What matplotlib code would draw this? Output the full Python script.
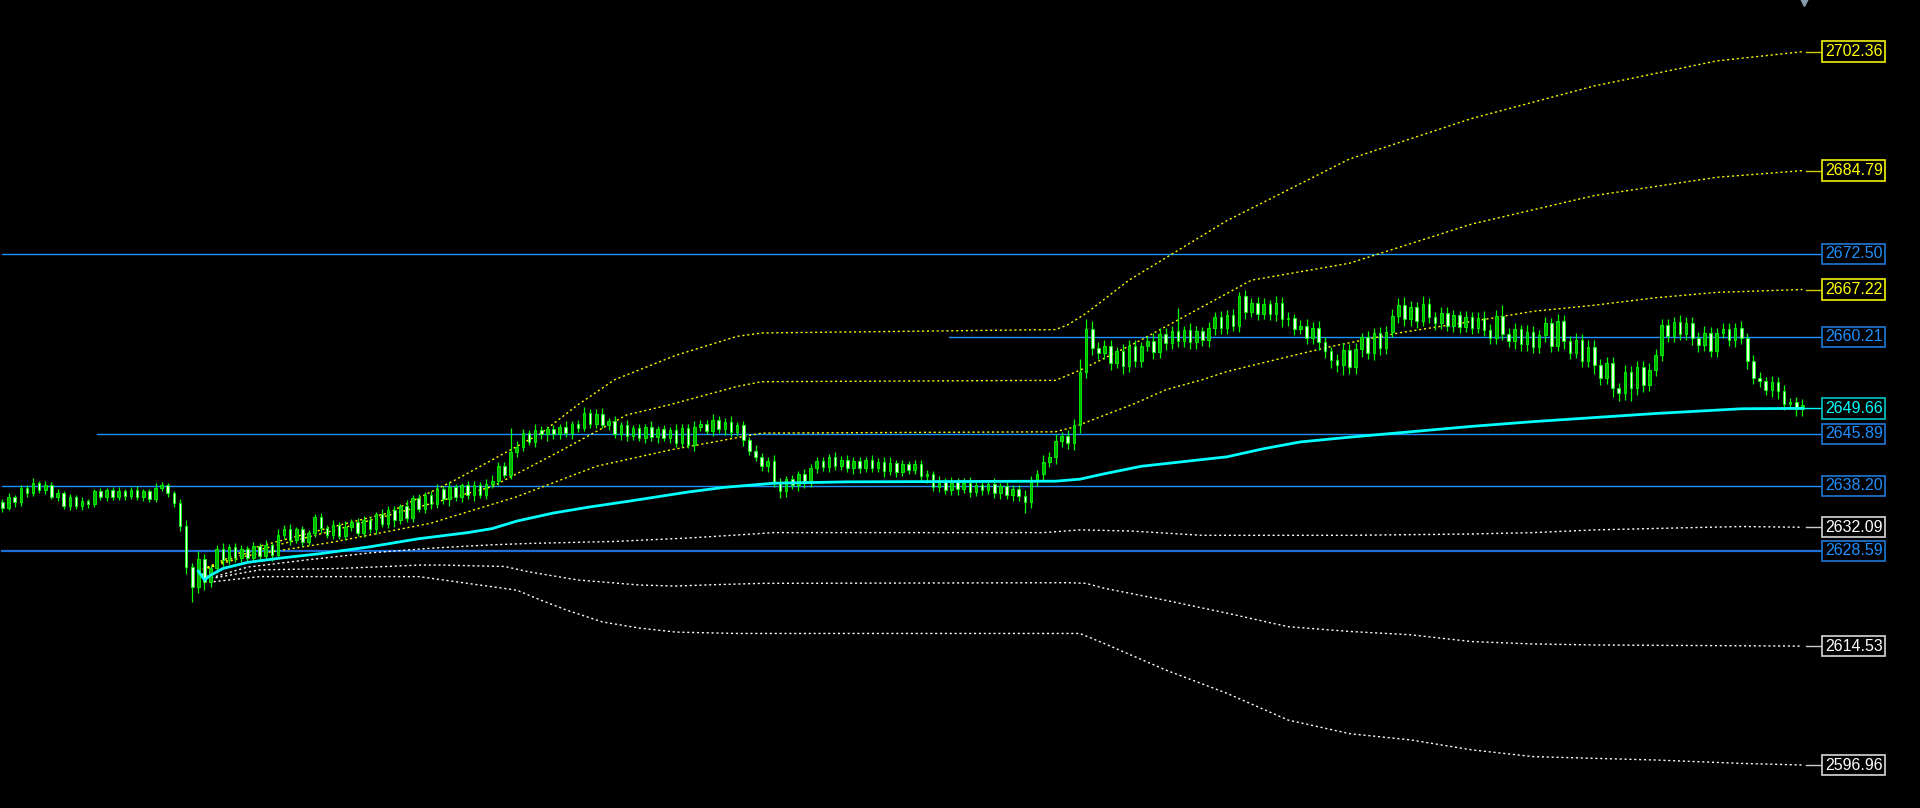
import numpy as np
import matplotlib.pyplot as plt


# CANDLE DATA (one bar every ~6 px)
closes = [
    2635.0, 2636.6, 2635.8, 2637.9, 2637.1, 2638.7, 2637.6, 2638.4, 2636.6, 2637.2,
    2635.3, 2636.5, 2635.2, 2636.0, 2635.6, 2637.4, 2636.5, 2637.6, 2636.6, 2637.5,
    2636.7, 2637.6, 2636.5, 2637.4, 2636.3, 2637.9, 2638.4, 2637.1, 2635.7, 2632.3,
    2626.2, 2623.2, 2627.4, 2624.0, 2626.0, 2628.9, 2627.2, 2629.2, 2627.6, 2628.9,
    2627.6, 2629.3, 2627.9, 2629.4, 2628.0, 2631.0, 2631.9, 2630.2, 2631.8, 2629.9,
    2631.2, 2633.6, 2632.0, 2631.0, 2632.4, 2630.8, 2632.2, 2632.9, 2631.3, 2633.1,
    2631.8, 2634.0, 2632.6, 2634.7, 2633.1, 2635.2, 2633.5, 2636.4, 2634.8, 2636.9,
    2635.5, 2637.8, 2636.2, 2638.0, 2636.5, 2638.3, 2636.8, 2638.4, 2636.9, 2638.5,
    2639.0, 2641.2, 2639.8, 2643.2, 2644.0, 2646.0, 2644.7, 2646.5, 2645.8, 2646.6,
    2645.8, 2646.9, 2646.0, 2647.3, 2646.8, 2649.0, 2647.4, 2648.9, 2647.2, 2647.8,
    2645.9, 2647.2, 2645.6, 2646.8, 2645.3, 2646.9, 2645.4, 2646.6, 2645.3, 2646.5,
    2644.6, 2646.8, 2644.3, 2646.9, 2647.4, 2646.3, 2648.0, 2646.6, 2647.6, 2646.2,
    2647.2, 2645.0, 2643.4, 2642.5, 2641.1, 2641.9, 2638.7, 2637.4, 2639.2, 2638.4,
    2639.9, 2638.6, 2640.8, 2641.9, 2641.0, 2642.4, 2641.2, 2642.1, 2640.9, 2641.9,
    2640.8, 2642.0, 2640.9, 2641.8, 2640.4, 2641.6, 2640.2, 2641.4, 2640.6, 2641.5,
    2639.6, 2639.9, 2638.0, 2638.9, 2637.6, 2638.9, 2637.7, 2638.7, 2637.3, 2638.4,
    2637.6, 2638.5, 2637.1, 2638.2, 2636.9, 2637.8, 2636.7, 2635.8, 2638.9, 2640.0,
    2641.8, 2642.4, 2644.8, 2645.6, 2644.6, 2647.2, 2655.0, 2661.4, 2658.6, 2657.9,
    2658.9, 2656.4, 2658.2, 2655.9, 2658.9, 2656.7, 2658.9, 2659.6, 2658.0, 2660.7,
    2659.3, 2661.1, 2659.6, 2661.3, 2659.4, 2661.1, 2659.7, 2661.5, 2663.1, 2661.6,
    2663.4, 2661.9, 2666.2, 2663.9, 2665.2, 2663.6, 2665.1, 2663.6, 2665.3, 2662.8,
    2663.0, 2661.4, 2661.9, 2660.1, 2661.6, 2659.4, 2658.1, 2656.8, 2656.0, 2658.3,
    2655.8, 2658.4, 2660.2, 2657.9, 2660.8, 2658.6, 2661.0, 2663.3, 2665.0, 2662.8,
    2664.6, 2662.6, 2665.1, 2663.1, 2662.3, 2663.7, 2661.9, 2663.4, 2661.7, 2663.1,
    2661.6, 2663.0, 2661.3, 2660.0, 2663.3, 2660.7, 2659.6, 2661.4, 2659.1, 2661.0,
    2658.7, 2660.5, 2662.2, 2658.9, 2662.6, 2659.6, 2657.9, 2659.8, 2656.7, 2658.8,
    2656.0, 2654.2, 2656.4, 2652.6, 2651.9, 2655.1, 2652.7, 2655.8, 2653.1, 2655.4,
    2657.6, 2662.0, 2660.3, 2662.4, 2660.7, 2662.3, 2660.1, 2659.0, 2660.8, 2658.2,
    2660.8, 2661.4, 2659.8, 2661.6, 2660.0, 2656.6, 2654.2, 2653.7, 2652.4, 2653.5,
    2652.2, 2650.3, 2650.6, 2649.5, 2650.2,
]
first_open = 2635.8

# wick lengths above / below the body, in tenths of a point
upper_wick = [
    4, 6, 3, 5, 4, 6, 3, 5, 4, 6,     3, 5, 4, 6, 3, 4, 5, 3, 4, 6,
    3, 5, 6, 3, 4, 7, 4, 3, 3, 6,     9, 6, 12, 7, 5, 6, 9, 4, 6, 5,
    4, 6, 5, 8, 4, 9, 5, 6, 4, 5,     5, 4, 6, 4, 7, 5, 8, 4, 5, 7,
    5, 4, 8, 5, 6, 4, 9, 5, 6, 4,     5, 7, 4, 8, 5, 4, 6, 5, 4, 7,
    8, 5, 6, 35, 9, 6, 5, 8, 6, 5,    6, 5, 9, 5, 7, 9, 5, 6, 8, 5,
    7, 5, 8, 4, 6, 5, 9, 5, 6, 4,     8, 5, 6, 9, 5, 6, 8, 5, 6, 9,
    5, 6, 5, 8, 6, 5, 9, 6, 5, 6,     5, 8, 6, 5, 6, 5, 8, 5, 6, 5,
    6, 5, 8, 5, 6, 9, 5, 6, 5, 6,     5, 6, 5, 8, 5, 6, 5, 6, 8, 5,
    6, 5, 8, 5, 6, 5, 6, 9, 8, 6,     9, 8, 10, 6, 8, 9, 20, 14, 11, 9,
    8, 9, 6, 10, 8, 9, 6, 8, 12, 8,   9, 8, 34, 6, 9, 8, 6, 9, 8, 10,
    8, 9, 6, 10, 8, 9, 8, 6, 9, 8,    9, 6, 8, 10, 8, 9, 8, 6, 9, 10,
    8, 9, 6, 9, 8, 9, 8, 10, 9, 11,   9, 8, 12, 9, 8, 10, 9, 8, 6, 9,
    8, 9, 10, 8, 9, 16, 8, 9, 6, 10,  9, 8, 9, 8, 10, 9, 8, 10, 8, 9,
    10, 9, 8, 9, 8, 10, 8, 9, 8, 9,   9, 8, 9, 8, 10, 8, 9, 8, 10, 9,
    8, 9, 8, 6, 9, 8, 9, 8, 6, 9,     8, 9, 6, 8, 9,
]
lower_wick = [
    6, 4, 7, 5, 6, 4, 5, 6, 4, 7,     5, 6, 4, 5, 6, 5, 4, 6, 5, 5,
    6, 5, 4, 6, 5, 5, 4, 5, 6, 7,     10, 22, 8, 12, 7, 6, 9, 5, 7, 6,
    5, 7, 6, 5, 9, 5, 6, 7, 5, 6,     5, 6, 7, 5, 6, 5, 6, 7, 5, 6,
    6, 7, 5, 6, 9, 5, 6, 7, 5, 6,     7, 5, 6, 9, 5, 7, 6, 9, 5, 6,
    6, 7, 5, 6, 7, 6, 5, 7, 6, 9,     7, 6, 5, 9, 6, 5, 7, 6, 5, 7,
    6, 9, 7, 6, 5, 7, 6, 9, 5, 7,     6, 7, 5, 9, 6, 5, 7, 6, 9, 7,
    6, 9, 7, 6, 7, 9, 7, 10, 9, 7,    9, 7, 6, 7, 6, 7, 6, 7, 6, 9,
    7, 6, 7, 6, 9, 6, 7, 6, 7, 6,     7, 9, 6, 7, 6, 7, 9, 6, 7, 6,
    7, 6, 7, 9, 6, 9, 7, 16, 9, 7,    9, 8, 10, 8, 9, 11, 12, 9, 11, 10,
    9, 10, 8, 11, 9, 10, 9, 8, 10, 9, 10, 9, 8, 9, 10, 9, 8, 9, 10, 9,
    9, 8, 9, 10, 8, 9, 8, 9, 10, 11,  10, 9, 8, 10, 9, 11, 10, 12, 9, 14,
    11, 10, 12, 9, 11, 10, 9, 8, 10, 9, 9, 10, 8, 9, 10, 9, 8, 10, 9, 8,
    9, 8, 10, 9, 8, 10, 9, 11, 9, 10,  9, 8, 10, 9, 8, 11, 9, 8, 10, 9,
    12, 11, 10, 13, 11, 10, 20, 11, 10, 9, 10, 9, 8, 9, 10, 9, 11, 10, 9, 10,
    9, 8, 9, 10, 9, 11, 10, 9, 8, 10,  11, 9, 8, 9, 10,
]


# ANCHORED VWAP + DEVIATION BANDS (bar index, price)
vwap_idx = [32, 33, 34, 36, 40, 46, 52, 60, 68, 76, 80, 84, 90, 96, 102, 107, 112,
            118, 126, 138, 172, 176, 180, 186, 192, 200, 206, 212, 220, 230, 240,
            250, 260, 270, 284, 294]
vwap_val = [2625.6, 2624.3, 2625.0, 2626.0, 2626.9, 2627.6, 2628.2, 2629.2, 2630.4,
            2631.3, 2631.9, 2633.0, 2634.2, 2635.1, 2635.9, 2636.6, 2637.3, 2638.0,
            2638.6, 2638.8, 2638.9, 2639.2, 2640.0, 2641.1, 2641.7, 2642.5, 2643.7,
            2644.7, 2645.4, 2646.2, 2647.0, 2647.7, 2648.3, 2648.9, 2649.6, 2649.66]

up1_idx = [32, 40, 54, 70, 84, 97, 109, 124, 172, 175, 185, 190, 196, 200, 210,
           217, 228, 240, 250, 260, 270, 280, 294]
up1_val = [2625.6, 2627.9, 2629.9, 2632.7, 2636.6, 2641.1, 2643.5, 2646.0, 2646.2,
           2646.9, 2650.4, 2652.4, 2653.9, 2655.1, 2657.3, 2658.8, 2660.8, 2662.5,
           2664.0, 2664.9, 2666.0, 2666.8, 2667.22]

up2_idx = [32, 40, 54, 68, 80, 91, 102, 109, 120, 124, 172, 176, 185, 194, 204,
           220, 240, 260, 280, 294]
up2_val = [2625.6, 2628.3, 2631.6, 2635.1, 2638.1, 2643.3, 2648.7, 2650.2, 2652.9,
           2653.6, 2653.8, 2655.3, 2659.3, 2663.7, 2668.6, 2671.1, 2676.9, 2681.1,
           2683.8, 2684.79]

up3_idx = [32, 40, 55, 63, 74, 88, 94, 100, 110, 120, 124, 172, 174, 177, 184,
           200, 220, 240, 260, 280, 294]
up3_val = [2625.6, 2628.8, 2632.4, 2634.2, 2639.1, 2646.0, 2650.2, 2653.9, 2657.5,
           2660.3, 2660.8, 2661.3, 2662.0, 2663.7, 2668.6, 2677.4, 2686.5, 2692.5,
           2697.3, 2701.0, 2702.36]

dn1_idx = [32, 34, 40, 50, 60, 70, 80, 86, 100, 112, 120, 126, 170, 176, 184, 196,
           220, 240, 250, 260, 276, 284, 294]
dn1_val = [2625.6, 2624.6, 2626.2, 2627.3, 2628.3, 2629.0, 2629.5, 2629.7, 2630.0,
           2630.5, 2630.95, 2631.3, 2631.3, 2631.7, 2631.55, 2630.9, 2630.9, 2631.1,
           2631.3, 2631.7, 2632.04, 2632.2, 2632.09]

dn2_idx = [32, 34, 42, 55, 68, 72, 82, 86, 94, 104, 110, 116, 124, 174, 177, 180,
           190, 200, 210, 220, 230, 240, 250, 260, 294]
dn2_val = [2625.6, 2624.5, 2625.8, 2626.0, 2626.5, 2626.5, 2626.3, 2625.5, 2624.3,
           2623.56, 2623.4, 2623.6, 2623.8, 2623.9, 2623.8, 2623.07, 2621.3, 2619.4,
           2617.4, 2616.7, 2616.2, 2615.2, 2614.85, 2614.7, 2614.53]

dn3_idx = [32, 34, 42, 55, 68, 70, 80, 84, 88, 92, 98, 104, 110, 120, 176, 180,
           190, 200, 210, 220, 230, 240, 250, 260, 270, 284, 294]
dn3_val = [2625.6, 2624.0, 2624.8, 2624.8, 2624.8, 2624.55, 2623.3, 2622.8, 2621.3,
           2619.9, 2618.1, 2617.2, 2616.6, 2616.4, 2616.4, 2614.9, 2611.0, 2607.56,
           2603.6, 2601.6, 2600.67, 2599.2, 2598.2, 2597.95, 2597.7, 2597.2, 2596.96]


# HORIZONTAL LEVELS (price, first bar)
level_price = [2672.50, 2660.21, 2645.89, 2638.20, 2628.59]
level_from_bar = [0, 154.6, 15.4, 0, 0]


# OHLC
closes = np.array(closes)
opens = np.concatenate([[first_open], closes[:-1]])
highs = np.maximum(opens, closes) + np.array(upper_wick) / 10
lows = np.minimum(opens, closes) - np.array(lower_wick) / 10
bars = np.arange(len(closes))
bull = closes >= opens


# FIGURE
fig = plt.figure(figsize=(19.2, 8.08), dpi=100, facecolor="black")
ax = fig.add_axes([0, 0, 1, 1])
ax.set_facecolor("black")
ax.set_xlim(-0.4, 313.2)
ax.set_ylim(2590.61, 2710.0)
ax.axis("off")

label_edge = 297.2   # bar position where the price boxes start
last_bar = bars[-1]

# levels
level_colors = ["#1e90ff", "#1e90ff", "#1e90ff", "#1e90ff", "#1c6fd6"]
level_widths = [1.0, 1.0, 1.0, 1.0, 1.6]
for p, x0, c, w in zip(level_price, level_from_bar, level_colors, level_widths):
    ax.plot([x0, label_edge], [p, p], color=c, lw=w, zorder=1)

# bands
bands = [
    (up3_idx, up3_val, "#ffff00"),
    (up2_idx, up2_val, "#ffff00"),
    (up1_idx, up1_val, "#ffff00"),
    (dn1_idx, dn1_val, "#ffffff"),
    (dn2_idx, dn2_val, "#ffffff"),
    (dn3_idx, dn3_val, "#ffffff"),
]
for idx, val, c in bands:
    ax.plot(idx, val, color=c, lw=1.0, linestyle=(0, (1.5, 2.0)), zorder=2)
    ax.plot([last_bar + 0.5, label_edge], [val[-1], val[-1]], color=c, lw=1.0,
            alpha=0.8, zorder=2)

# candles
ax.vlines(bars, lows, highs, color="#00ff00", lw=0.9, zorder=3)
body_lo = np.minimum(opens, closes)
body_h = np.maximum(np.abs(closes - opens), 0.06)
ax.bar(bars, body_h, bottom=body_lo, width=0.42,
       color=np.where(bull, "#00b400", "#e4ffe4"),
       edgecolor="#00ff00", linewidth=0.6, zorder=3)

# vwap
ax.plot(vwap_idx, vwap_val, color="#00ffff", lw=2.0, zorder=4)
ax.plot([last_bar, label_edge], [vwap_val[-1], vwap_val[-1]], color="#00ffff",
        lw=1.0, zorder=4)


# PRICE LABELS
def price_label(price, text_color, edge_color):
    ax.text(label_edge + 0.45, price, f"{price:.2f}", color=text_color,
            fontsize=11.5, family="Liberation Sans", ha="left", va="center",
            bbox=dict(boxstyle="square,pad=0.17", fc="black", ec=edge_color, lw=1.3),
            zorder=6)


for idx, val, c in bands[:3]:
    price_label(val[-1], "#ffff00", "#e0e000")
for idx, val, c in bands[3:]:
    price_label(val[-1], "#ffffff", "#c8c8c8")
for p in level_price:
    price_label(p, "#1e90ff", "#1e6fc8")
price_label(vwap_val[-1], "#00ffff", "#00b8b8")

# chart shift marker at the top
ax.plot([last_bar + 0.3], [2710.0], marker="v", ms=8, color="#8a9bb0",
        zorder=7, clip_on=True)

fig.savefig("out.png", dpi=100, facecolor="black")
